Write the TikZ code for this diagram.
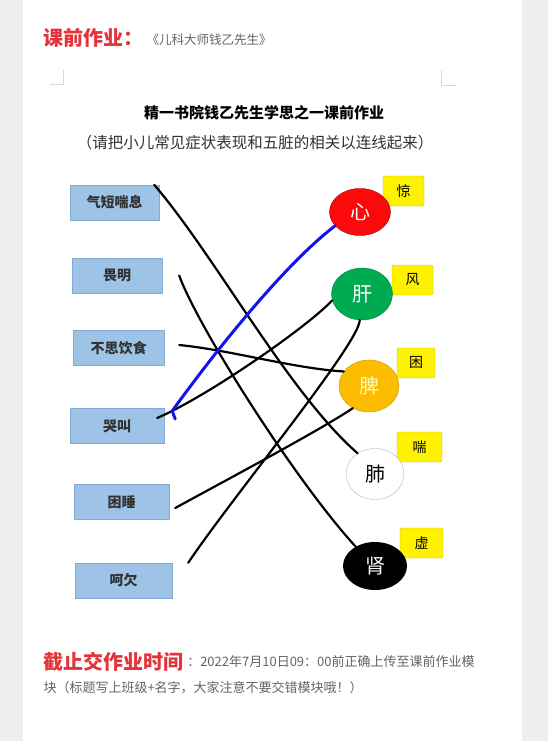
\documentclass[tikz,border=0pt]{standalone}
\usepackage{fontspec}
\newfontfamily\cjk{Noto Sans CJK SC}
\usetikzlibrary{shapes.geometric,calc}
\definecolor{pagegray}{RGB}{238,238,238}
\definecolor{boxblue}{RGB}{157,195,230}
\definecolor{boxedge}{RGB}{130,170,212}
\definecolor{darktext}{RGB}{50,50,50}
\definecolor{headred}{RGB}{228,52,58}
\definecolor{notegray}{RGB}{100,100,100}
\definecolor{heartred}{RGB}{250,10,10}
\definecolor{livergreen}{RGB}{0,170,80}
\definecolor{spleenorange}{RGB}{252,188,0}
\definecolor{lungedge}{RGB}{160,185,215}
\definecolor{tagedge}{RGB}{190,190,40}
\definecolor{penblue}{RGB}{20,20,230}
\begin{document}
\begin{tikzpicture}[x=1pt,y=-1pt,
  symbox/.style={draw=boxedge,fill=boxblue,minimum height=35pt,inner sep=0pt,
    text=darktext,font=\cjk\bfseries\fontsize{14}{14}\selectfont},
  organ/.style={ellipse,inner sep=0pt,font=\cjk\fontsize{20}{20}\selectfont},
  tag/.style={draw=tagedge,fill=yellow,rounded corners=2pt,inner sep=0pt,
    font=\cjk\fontsize{14}{14}\selectfont},
  link/.style={line width=2.2pt,line cap=round},
]
\fill[pagegray] (0,0) rectangle (548,741);
\fill[white] (23,0) rectangle (522,741);
% page corner marks
\draw[black!15,line width=1pt] (63,70) -- (63,85) -- (50,85);
\draw[black!15,line width=1pt] (441,70) -- (441,86) -- (456,86);
% headings
\node[anchor=west,text=headred,font=\cjk\bfseries\fontsize{20}{20}\selectfont] (hw) at (40,38) {课前作业：};
\node[anchor=west,text=notegray,font=\cjk\fontsize{12.5}{12.5}\selectfont] (book) at (143,40) {《儿科大师钱乙先生》};
\node[font=\cjk\bfseries\fontsize{15}{15}\selectfont] (title) at (264,113) {精一书院钱乙先生学思之一课前作业};
\node[text=darktext,font=\cjk\fontsize{15.5}{15.5}\selectfont] (hint) at (255,143) {（请把小儿常见症状表现和五脏的相关以连线起来）};
% symptoms
\foreach \n/\x/\y/\w/\lab in {s1/114.5/202.5/89/气短喘息, s2/117/275.5/90/畏明,
  s3/118.5/348/91/不思饮食, s4/117/426/94/哭叫, s5/121.5/502/95/困睡, s6/123.5/580.5/97/呵欠}{
  \node[symbox,minimum width=\w pt] (\n) at (\x,\y) {\lab};
}
% tags beside the organs
\foreach \n/\x/\y/\w/\lab in {t1/403.5/191/41/惊, t2/412.5/280/41/风, t3/416/363/38/困,
  t4/419.5/447/45/喘, t5/421.5/543/43/虚}{
  \node[tag,minimum width=\w pt,minimum height=30pt] (\n) at (\x,\y) {\lab};
}
% organs
\node[organ,fill=heartred,draw=red!70!black,text=white,minimum width=61pt,minimum height=47pt] (o1) at (360,212) {心};
\node[organ,fill=livergreen,draw=livergreen!80!black,text=white,minimum width=61pt,minimum height=52pt] (o2) at (362,294) {肝};
\node[organ,fill=spleenorange,draw=spleenorange!80!black,text=yellow!30,minimum width=60pt,minimum height=52pt] (o3) at (369,386) {脾};
\node[organ,fill=white,draw=lungedge,text=black,minimum width=58pt,minimum height=51pt] (o4) at (375,474) {肺};
\node[organ,fill=black,text=white,minimum width=64pt,minimum height=48pt] (o5) at (375,566) {肾};
% hand drawn links
\draw[link] ($(s1.north east)+(-5,0)$) .. controls +(61,71) and +(-69,-60) .. (o4.130);
\draw[link] ($(s2.east)+(17,0)$) .. controls +(18,50) and +(-62,-68) .. (o5.135);
\draw[link] ($(s3.east)+(15,-3)$) .. controls +(51,5) and +(-50,-3) .. (o3.150);
\draw[link] ($(s4.east)+(-7,-8)$) .. controls +(53,-23) and +(-23,25) .. (o2.192);
\draw[link] ($(s5.east)+(6,6)$) .. controls +(55,-30) and +(-33,22) .. (o3.234);
\draw[link] ($(s6.north east)+(16,0)$) .. controls +(42,-63) and +(0,23) .. (o2.265);
\draw[link,penblue,line width=3pt,line join=round] ($(s4.east)+(11,-7)$) -- ++(-3,-8)
  .. controls +(33,-46) and +(-55,42) .. (o1.209);
% deadline
\node[anchor=west,text=headred,font=\cjk\bfseries\fontsize{20}{20}\selectfont] (dl) at (40,662) {截止交作业时间};
\node[anchor=west,text=notegray,font=\cjk\fontsize{13}{13}\selectfont,inner sep=0pt] (dl2) at (dl.east) {：2022年7月10日09：00前正确上传至课前作业模};
\node[anchor=west,text=notegray,font=\cjk\fontsize{13}{13}\selectfont] (dl3) at (40,688) {块（标题写上班级+名字，大家注意不要交错模块哦！）};
\end{tikzpicture}
\end{document}
